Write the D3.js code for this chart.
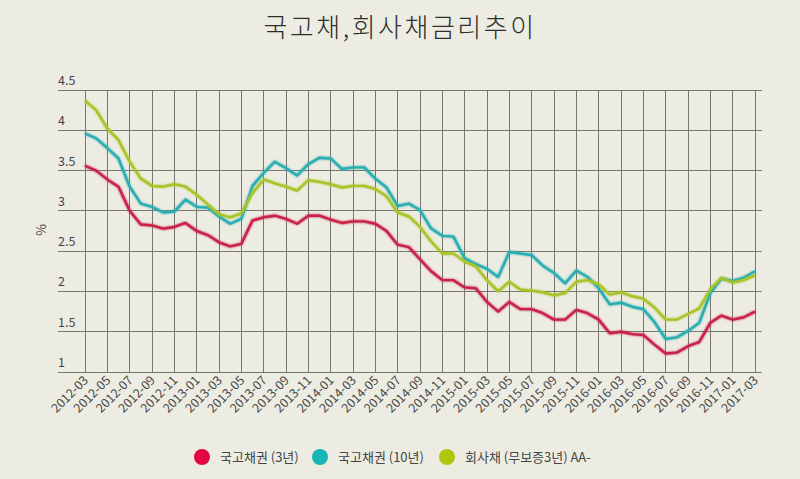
<!DOCTYPE html>
<html><head><meta charset="utf-8">
<script src="https://cdn.jsdelivr.net/npm/d3@7"></script>
<style>
body{margin:0;background:#edece2;}
svg{display:block;font-family:"Noto Sans CJK KR","Noto Sans",sans-serif;}
</style></head><body>
<svg id="c" width="800" height="479"></svg>
<script>
const months = [];
for (let y = 2012; y <= 2017; y++) for (let m = 1; m <= 12; m++) {
  const s = y + "-" + String(m).padStart(2, "0");
  if (s >= "2012-03" && s <= "2017-03") months.push(s);
}
const tickLabels = months.filter((d, i) => i % 2 === 0);
const yTicks = [1, 1.5, 2, 2.5, 3, 3.5, 4, 4.5];
const seriesNames = ["국고채권 (3년)", "국고채권 (10년)", "회사채 (무보증3년) AA-"];
const treasury3 = [3.56,3.50,3.39,3.30,3.00,2.83,2.82,2.78,2.80,2.85,2.75,2.70,2.61,2.56,2.59,2.88,2.92,2.94,2.90,2.84,2.94,2.94,2.89,2.85,2.87,2.87,2.84,2.75,2.58,2.55,2.40,2.25,2.14,2.14,2.05,2.04,1.87,1.75,1.87,1.78,1.78,1.73,1.65,1.65,1.77,1.73,1.65,1.48,1.50,1.47,1.46,1.34,1.23,1.24,1.32,1.37,1.61,1.70,1.65,1.68,1.75];
const treasury10 = [3.96,3.90,3.78,3.65,3.30,3.09,3.05,2.98,2.99,3.14,3.05,3.04,2.93,2.84,2.90,3.31,3.47,3.61,3.53,3.44,3.58,3.66,3.65,3.52,3.54,3.54,3.40,3.29,3.06,3.09,3.01,2.78,2.69,2.68,2.41,2.34,2.28,2.18,2.49,2.47,2.45,2.32,2.23,2.10,2.26,2.18,2.04,1.84,1.86,1.81,1.78,1.62,1.41,1.43,1.51,1.61,1.98,2.16,2.13,2.17,2.25];
const corporate = [4.37,4.25,4.02,3.88,3.61,3.40,3.31,3.30,3.33,3.30,3.20,3.08,2.96,2.92,2.97,3.22,3.39,3.34,3.30,3.25,3.38,3.36,3.33,3.29,3.31,3.31,3.27,3.18,2.98,2.93,2.80,2.62,2.47,2.47,2.37,2.31,2.14,2.00,2.12,2.02,2.01,1.99,1.95,1.98,2.12,2.14,2.09,1.96,1.99,1.94,1.91,1.80,1.65,1.65,1.72,1.79,2.03,2.17,2.11,2.14,2.20];
const lineColors = ["#c8234a", "#2aaeb2", "#a9c42a"];
const dotColors = ["#e3073f", "#17b5b8", "#adc80e"];
const data = [treasury3, treasury10, corporate];

const svg = d3.select("#c");
const x = d3.scalePoint().domain(months).range([85, 755]);
const y = d3.scaleLinear().domain([1, 4.5]).range([372, 90]);

// title
svg.append("text").attr("x", 400).attr("y", 37).attr("text-anchor", "middle")
  .attr("font-size", 26).attr("font-weight", 300).attr("fill", "#2e2e2e").attr("letter-spacing", "2.5px")
  .text("국고채,회사채금리추이");

const g = svg.append("g");
g.selectAll(".hg").data(yTicks).join("line")
  .attr("x1", 58).attr("x2", 762).attr("y1", d => y(d)).attr("y2", d => y(d))
  .attr("stroke", "#77776f").attr("stroke-width", 1).attr("shape-rendering", "crispEdges");
g.selectAll(".vg").data(tickLabels).join("line")
  .attr("x1", d => x(d)).attr("x2", d => x(d)).attr("y1", y(4.5)).attr("y2", y(1))
  .attr("stroke", "#77776f").attr("stroke-width", 1).attr("shape-rendering", "crispEdges");
g.selectAll(".yl").data(yTicks).join("text")
  .attr("x", 58).attr("y", d => y(d) - 5).attr("font-size", 12.5).attr("fill", "#444")
  .text(d => String(d));
svg.append("text").attr("transform", "translate(46,230) rotate(-90)")
  .attr("text-anchor", "middle").attr("font-size", 13).attr("fill", "#444").text("%");
g.selectAll(".xl").data(tickLabels).join("text")
  .attr("transform", d => `translate(${x(d) + 4},${381}) rotate(-45)`)
  .attr("text-anchor", "end").attr("font-size", 12.5).attr("fill", "#4a4a4a").text(d => d);

const line = d3.line().x((d, i) => x(months[i])).y(d => y(d));
const defs = svg.append("defs");
const f = defs.append("filter").attr("id", "glow").attr("x", "-5%").attr("y", "-5%").attr("width", "110%").attr("height", "110%");
f.append("feGaussianBlur").attr("in", "SourceGraphic").attr("stdDeviation", 1).attr("result", "b");
const fm = f.append("feMerge");
fm.append("feMergeNode").attr("in", "b");
fm.append("feMergeNode").attr("in", "SourceGraphic");
data.forEach((s, k) => {
  svg.append("path").datum(s).attr("d", line).attr("fill", "none")
    .attr("stroke", lineColors[k]).attr("stroke-width", 2.4).attr("stroke-linejoin", "round")
    .attr("filter", "url(#glow)");
});

const legX = [202, 320, 447];
const leg = svg.append("g");
seriesNames.forEach((n, k) => {
  leg.append("circle").attr("cx", legX[k]).attr("cy", 457).attr("r", 8).attr("fill", dotColors[k]);
  leg.append("text").attr("x", legX[k] + 18).attr("y", 462).attr("font-size", 13).attr("fill", "#444").text(n);
});
</script></body></html>
